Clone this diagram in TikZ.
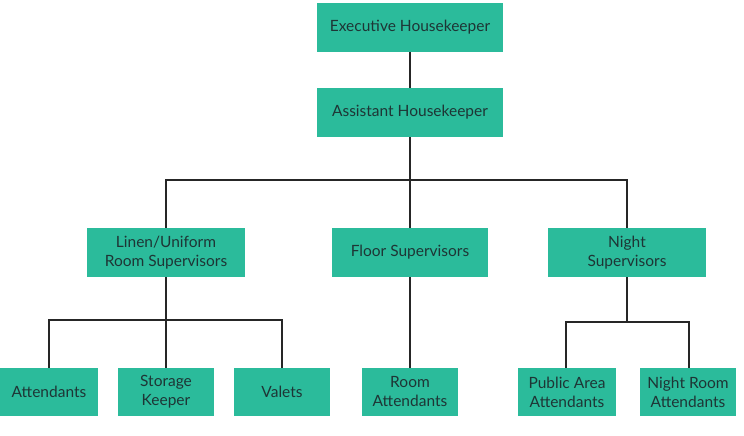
\documentclass[tikz,border=0pt]{standalone}
\usepackage{fontspec}
\setmainfont{Lato}
\begin{document}
\begin{tikzpicture}[x=1pt,y=-1pt,
  box/.style={fill=boxteal, draw=none, text=boxtext, align=center, inner sep=0pt, font=\fontsize{15.5}{19}\selectfont},
  link/.style={draw=linkgray, line width=2pt}]
\definecolor{boxteal}{HTML}{2BBB9B}
\definecolor{boxtext}{HTML}{1E3535}
\definecolor{linkgray}{HTML}{262626}
\useasboundingbox (0,0) rectangle (744,436);
\newcommand\bx[6]{\node[box, minimum width={(#4-#2)*1pt}, minimum height={(#5-#3)*1pt}] (#1) at ({(#2+#4)/2},{(#3+#5)/2}) {#6};}
\bx{exec}{317}{3}{503}{52}{Executive Housekeeper}
\bx{asst}{317}{88}{503}{137}{Assistant Housekeeper}
\bx{linen}{87}{228}{245}{277}{Linen/Uniform\\Room Supervisors}
\bx{floor}{332}{228}{488}{277}{Floor Supervisors}
\bx{night}{548}{228}{706}{277}{Night\\Supervisors}
\bx{att}{0}{368}{98}{416}{Attendants}
\bx{stor}{118}{368}{214}{416}{Storage\\Keeper}
\bx{val}{234}{368}{330}{416}{Valets}
\bx{room}{362}{368}{458}{416}{Room\\Attendants}
\bx{pub}{518}{368}{616}{416}{Public Area\\Attendants}
\bx{nroom}{640}{368}{736}{416}{Night Room\\Attendants}
\coordinate (top) at (410,180);
\coordinate (lbar) at (166,320);
\coordinate (rbar) at (627,322);
\draw[link] (exec) -- (asst);
\draw[link] (asst) -- (top);
\draw[link] (linen.north) |- (top) -| (night.north);
\draw[link] (top) -- (floor);
\draw[link] (floor) -- (room);
\draw[link] (linen) -- (stor);
\draw[link] (att.north) |- (lbar) -| (val.north);
\draw[link] (night) -- (rbar);
\draw[link] ([xshift=-1pt]pub.north) |- (rbar) -| ([xshift=1pt]nroom.north);
\end{tikzpicture}
\end{document}
